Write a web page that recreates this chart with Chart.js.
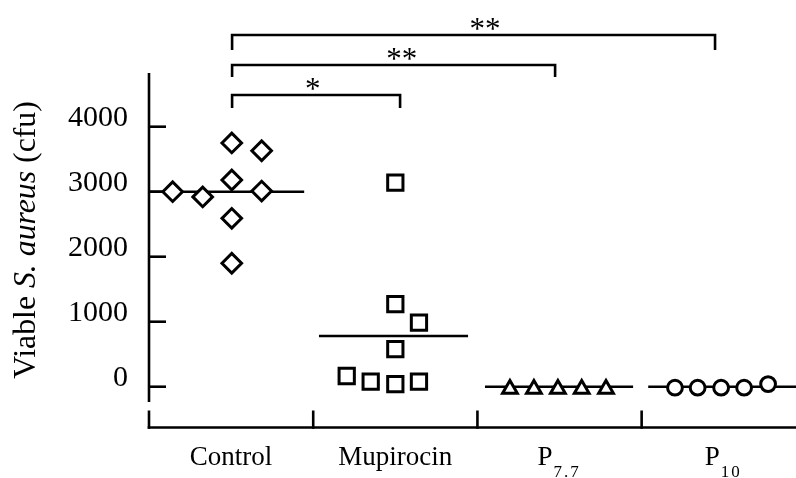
<!DOCTYPE html>
<html><head><meta charset="utf-8">
<script src="https://cdn.jsdelivr.net/npm/chart.js@4/dist/chart.umd.min.js"></script>
<style>html,body{margin:0;padding:0;background:#fff;}#wrap{width:796px;height:478px;}</style>
</head><body><div id="wrap"><canvas id="c" width="796" height="478"></canvas></div>
<script>
// ---- data ----
const categories = ['Control', 'Mupirocin', 'P', 'P'];
const categorySubscripts = ['', '', '7.7', '10'];
const yTickValues = [0, 1000, 2000, 3000, 4000];
const yAxisRange = [-235, 4826];
const yTitleParts = [['Viable ', false], ['S. aureus', true], [' (cfu)', false]];

const controlValues = [3000, 2920, 3750, 3630, 3180, 3010, 2590, 1900];
const controlJitter = [-0.356, -0.173, 0.004, 0.186, 0.004, 0.186, 0.004, 0.004];
const mupirocinValues = [3140, 1272, 985, 580, 165, 77, 41, 77];
const mupirocinJitter = [0, 0, 0.144, 0, -0.296, -0.150, 0, 0.144];
const p77Values = [-35, -35, -35, -35, -35];
const p77Jitter = [-0.302, -0.156, -0.01, 0.135, 0.283];
const p10Values = [-15, -15, -15, -15, 40];
const p10Jitter = [-0.297, -0.159, -0.016, 0.124, 0.27];

const medianValues = [3000, 780, 0, 0];
const medianStart = [0.0, 1.035, 2.046, 3.04];
const medianEnd = [0.945, 1.943, 2.948, 3.96];

const bracketStart = [0.506, 0.506, 0.506];
const bracketEnd = [1.529, 2.473, 3.447];
const bracketTop = [4488, 4949, 5411];
const bracketLeg = [4288, 4765, 5180];
const bracketLabels = ['*', '**', '**'];
const bracketLabelX = [0.997, 1.539, 2.046];

// ---- build ----
const SERIF = '"Liberation Serif", "Times New Roman", serif';
const LW = 2.6;
const MW = 3;
function pts(vals, jit, idx) { return vals.map((v, i) => ({ x: idx + 0.5 + jit[i], y: v })); }
function markerSet(data, style, r) {
  return { type: 'scatter', data, pointStyle: style, pointRadius: r, pointBorderWidth: MW,
    pointBorderColor: '#000', pointBackgroundColor: '#fff', showLine: false, clip: false };
}
const datasets = [
  markerSet(pts(controlValues, controlJitter, 0), 'rectRot', 9.8),
  markerSet(pts(mupirocinValues, mupirocinJitter, 1), 'rect', 10.8),
  markerSet(pts(p77Values, p77Jitter, 2), 'triangle', 8.5),
  markerSet(pts(p10Values, p10Jitter, 3), 'circle', 7.4),
];
medianValues.forEach((m, i) => datasets.push({
  type: 'scatter', showLine: true, data: [{ x: medianStart[i], y: m }, { x: medianEnd[i], y: m }],
  pointRadius: 0, borderColor: '#000', borderWidth: LW, borderCapStyle: 'butt'
}));
bracketTop.forEach((t, i) => datasets.push({
  type: 'scatter', showLine: true,
  data: [{ x: bracketStart[i], y: bracketLeg[i] }, { x: bracketStart[i], y: t }, { x: bracketEnd[i], y: t }, { x: bracketEnd[i], y: bracketLeg[i] }],
  pointRadius: 0, borderColor: '#000', borderWidth: LW, borderCapStyle: 'butt', borderJoinStyle: 'miter', tension: 0, clip: false
}));

const decor = {
  id: 'decor',
  beforeDatasetsDraw(chart) {
    const ctx = chart.ctx, xs = chart.scales.x, ys = chart.scales.y, ca = chart.chartArea;
    ctx.save();
    ctx.strokeStyle = '#000'; ctx.lineWidth = LW; ctx.lineCap = 'butt';
    const ax = ca.left;
    // y axis
    ctx.beginPath();
    ctx.moveTo(ax, ys.getPixelForValue(yAxisRange[1]));
    ctx.lineTo(ax, ys.getPixelForValue(yAxisRange[0]));
    ctx.stroke();
    yTickValues.forEach(v => {
      const y = ys.getPixelForValue(v);
      ctx.beginPath(); ctx.moveTo(ax, y); ctx.lineTo(ax + 17, y); ctx.stroke();
    });
    // x axis
    const by = ca.bottom - 0.5;
    ctx.beginPath(); ctx.moveTo(ax - LW / 2, by); ctx.lineTo(ca.right, by); ctx.stroke();
    for (let i = 0; i <= categories.length; i++) {
      const x = xs.getPixelForValue(i);
      ctx.beginPath(); ctx.moveTo(x, by + LW / 2); ctx.lineTo(x, by - 17); ctx.stroke();
    }
    ctx.restore();
  },
  afterDraw(chart) {
    const ctx = chart.ctx, xs = chart.scales.x, ys = chart.scales.y, ca = chart.chartArea;
    ctx.save();
    ctx.fillStyle = '#000';
    // significance labels
    ctx.font = '31px ' + SERIF; ctx.textAlign = 'center'; ctx.textBaseline = 'alphabetic';
    bracketLabels.forEach((s, i) => {
      ctx.fillText(s, xs.getPixelForValue(bracketLabelX[i]), ys.getPixelForValue(bracketTop[i]) + 4);
    });
    // category labels
    const baseY = ca.bottom + 37;
    categories.forEach((c, i) => {
      const cx = xs.getPixelForValue(i + 0.5);
      const sub = categorySubscripts[i];
      ctx.font = '27px ' + SERIF;
      const mw = ctx.measureText(c).width;
      let subW = 0;
      const subFont = '17px ' + SERIF, sp = 2;
      if (sub) {
        ctx.font = subFont;
        for (const ch of sub) subW += ctx.measureText(ch).width + sp;
        subW -= sp;
      }
      let x0 = cx - (mw + subW) / 2 - (sub ? 2 : 0);
      ctx.textAlign = 'left';
      ctx.font = '27px ' + SERIF;
      ctx.fillText(c, x0, baseY);
      if (sub) {
        ctx.font = subFont;
        let x = x0 + mw + 1;
        for (const ch of sub) { ctx.fillText(ch, x, baseY + 12); x += ctx.measureText(ch).width + sp; }
      }
    });
    // y title
    ctx.translate(34.5, 240);
    ctx.rotate(-Math.PI / 2);
    let total = 0;
    const tf = '31.8px ' + SERIF;
    yTitleParts.forEach(([t, it]) => { ctx.font = (it ? 'italic ' : '') + tf; total += ctx.measureText(t).width; });
    let x = -total / 2;
    ctx.textAlign = 'left'; ctx.textBaseline = 'alphabetic';
    yTitleParts.forEach(([t, it]) => {
      ctx.font = (it ? 'italic ' : '') + tf;
      ctx.fillText(t, x, 0);
      x += ctx.measureText(t).width;
    });
    ctx.restore();
  }
};

new Chart(document.getElementById('c'), {
  type: 'scatter',
  data: { datasets },
  options: {
    responsive: false, animation: false, events: [],
    layout: { padding: 0, autoPadding: false },
    plugins: { legend: { display: false }, tooltip: { enabled: false } },
    scales: {
      x: {
        type: 'linear', min: 0, max: 3.94,
        grid: { display: false }, border: { display: false }, ticks: { display: false },
        afterFit(s) { s.height = 50; s.paddingLeft = 0; s.paddingRight = 0; }
      },
      y: {
        type: 'linear', min: -635, max: 5949,
        grid: { display: false, drawTicks: false }, border: { display: false },
        ticks: { color: '#000', font: { family: SERIF, size: 30 }, padding: 21, labelOffset: -9, callback: v => String(v) },
        afterBuildTicks(s) { s.ticks = yTickValues.map(v => ({ value: v })); },
        afterFit(s) { s.width = 149; s.paddingTop = 0; s.paddingBottom = 0; }
      }
    }
  },
  plugins: [decor]
});
</script></body></html>
